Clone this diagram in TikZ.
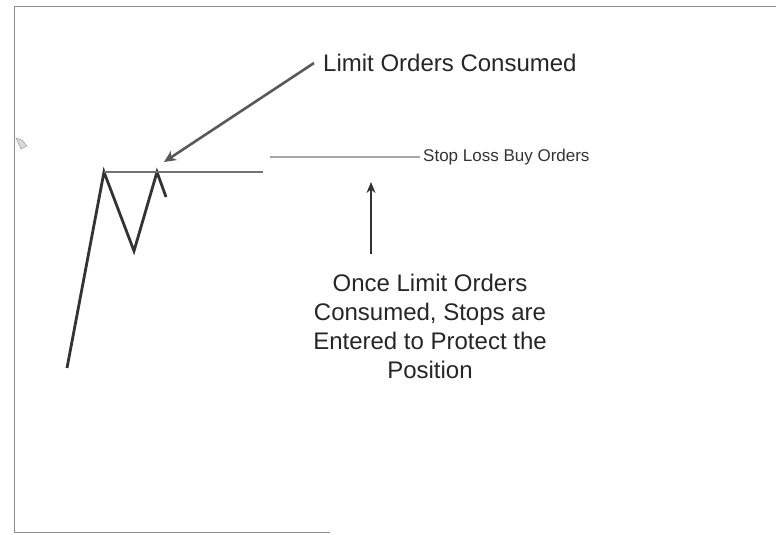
\documentclass[tikz,border=0pt]{standalone}
\usepackage{fontspec}
\setmainfont{Liberation Sans}
\usetikzlibrary{arrows.meta}
\begin{document}
\begin{tikzpicture}[x=1pt,y=-1pt,
  frameline/.style={draw=black!45,line width=0.8pt},
  priceline/.style={draw=black!80,line width=2.8pt,line join=miter},
  levelline/.style={draw=black!55,line width=2.4pt},
  stopline/.style={draw=black!35,line width=1.5pt},
  callout/.style={draw=black!65,line width=2.6pt,-{Stealth[length=12pt,width=11pt]}},
  uparrow/.style={draw=black!80,line width=1.8pt,-{Stealth[length=11pt,width=9pt]}},
  label/.style={font=\fontsize{24}{29}\selectfont,text=black!85,inner sep=0pt},
  smalllabel/.style={font=\fontsize{17}{20}\selectfont,text=black!80,inner sep=0pt},
  speck/.style={draw=black!35,fill=black!15,line width=0.6pt}
]
\useasboundingbox (0,0) rectangle (776,535);
% frame
\coordinate (fTL) at (14,6);
\coordinate (fTR) at (776,6);
\coordinate (fBL) at (14,532);
\coordinate (fBR) at (330,532);
\draw[frameline] (fTR) -- (fTL) -- (fBL) -- (fBR);
% small scan mark at the left
\coordinate (m0) at (16,138);
\coordinate (m1) at (22,140);
\coordinate (m2) at (27,146);
\coordinate (m3) at (21,149);
\draw[speck] (m0) -- (m1) -- (m2) -- (m3) -- cycle;
% price path
\coordinate (p0) at (67,368);
\coordinate (p1) at (104,172);
\coordinate (p2) at (134,251);
\coordinate (p3) at (157,172);
\coordinate (p4) at (166,197);
\draw[priceline] (p0) -- (p1) -- (p2) -- (p3) -- (p4);
% level line
\coordinate (l1) at (263,172);
\draw[levelline] (p1) -- (l1);
% stop line
\coordinate (s0) at (270,157);
\coordinate (s1) at (420,157);
\draw[stopline] (s0) -- (s1);
\node[smalllabel,anchor=west] (stoplbl) at (423,157) {Stop Loss Buy Orders};
% limit orders label and arrow
\node[label,anchor=west] (limitlbl) at (323,63) {Limit Orders Consumed};
\coordinate (ctip) at (164,162);
\draw[callout] ([xshift=-9pt]limitlbl.west) -- (ctip);
% up arrow and explanation
\node[label,align=center,anchor=north] (expl) at (430,274) {Once Limit Orders\\Consumed, Stops are\\Entered to Protect the\\Position};
\coordinate (abot) at (371,254);
\coordinate (atop) at (371,182);
\draw[uparrow] (abot) -- (atop);
\end{tikzpicture}
\end{document}
